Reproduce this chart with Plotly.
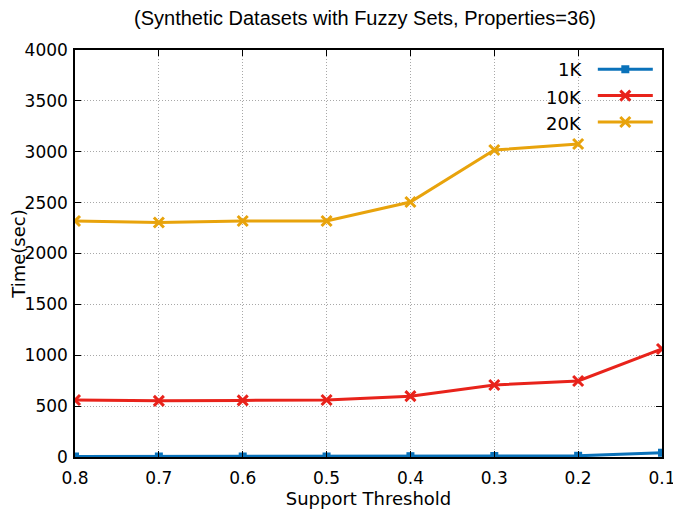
import plotly.graph_objects as go

support = [0.8, 0.7, 0.6, 0.5, 0.4, 0.3, 0.2, 0.1]
time_1k = [5, 5, 5, 5, 8, 10, 12, 42]
time_10k = [560, 552, 556, 560, 598, 708, 747, 1062]
support_20k = [0.8, 0.7, 0.6, 0.5, 0.4, 0.3, 0.2]
time_20k = [2320, 2305, 2320, 2320, 2506, 3017, 3076]
series_names = ["1K", "10K", "20K"]
x_ticks = [0.8, 0.7, 0.6, 0.5, 0.4, 0.3, 0.2, 0.1]
x_tick_labels = ["0.8", "0.7", "0.6", "0.5", "0.4", "0.3", "0.2", "0.1"]
y_ticks = [0, 500, 1000, 1500, 2000, 2500, 3000, 3500, 4000]

colors = ["#0a72ba", "#e8231b", "#e8a30c"]
sans = "DejaVu Sans, sans-serif"
helv = "Liberation Sans, Arial, sans-serif"

fig = go.Figure()
fig.add_trace(go.Scatter(x=support, y=time_1k, mode="lines+markers", name=" ",
                         line=dict(color=colors[0], width=3),
                         marker=dict(symbol="square", size=8, color=colors[0])))
fig.add_trace(go.Scatter(x=support, y=time_10k, mode="lines+markers", name=" ",
                         line=dict(color=colors[1], width=3),
                         marker=dict(symbol="x-thin", size=10, color=colors[1],
                                     line=dict(width=3, color=colors[1]))))
fig.add_trace(go.Scatter(x=support_20k, y=time_20k, mode="lines+markers", name=" ",
                         line=dict(color=colors[2], width=3),
                         marker=dict(symbol="x-thin", size=10, color=colors[2],
                                     line=dict(width=3, color=colors[2]))))

axis_common = dict(showline=True, linecolor="black", linewidth=1.5, mirror="ticks",
                   ticks="inside", ticklen=6, tickcolor="black", tickwidth=1,
                   showgrid=True, gridcolor="#a8a8a8", griddash="1px,2px", gridwidth=1,
                   zeroline=False, automargin=False,
                   tickfont=dict(size=17, color="black", family=sans))

# page body adds an 8px offset, so the figure is sized to fit the window
fig.update_layout(
    width=673, height=501,
    margin=dict(l=67, r=16, t=42, b=52),
    paper_bgcolor="white", plot_bgcolor="white",
    font=dict(family=sans, size=17, color="black"),
    title=dict(text="(Synthetic Datasets with Fuzzy Sets, Properties=36)",
               xref="container", x=357 / 673, xanchor="center",
               yref="container", y=1 - 10 / 501, yanchor="middle",
               font=dict(size=20, family=helv)),
    xaxis=dict(range=[0.8, 0.1], tickvals=x_ticks, ticktext=x_tick_labels,
               ticklabelstandoff=5,
               title=dict(text="Support Threshold", standoff=0, font=dict(size=18, family=sans)),
               **axis_common),
    yaxis=dict(range=[0, 4000], tickvals=y_ticks, ticklabelstandoff=2,
               title=dict(text="Time(sec)", standoff=4, font=dict(size=18, family=sans)),
               **axis_common),
    legend=dict(x=1.0116, y=0.9975, xanchor="right", yanchor="top",
                bgcolor="rgba(0,0,0,0)", itemwidth=55,
                font=dict(size=18, family=sans), tracegroupgap=0),
)

legend_y = [0.9533, 0.8845, 0.8206]
for name, yy in zip(series_names, legend_y):
    fig.add_annotation(text=name, xref="paper", yref="paper", x=0.8678, y=yy,
                       xanchor="right", yanchor="middle", showarrow=False,
                       font=dict(size=18, family=sans, color="black"))

fig.write_html("out.html")
